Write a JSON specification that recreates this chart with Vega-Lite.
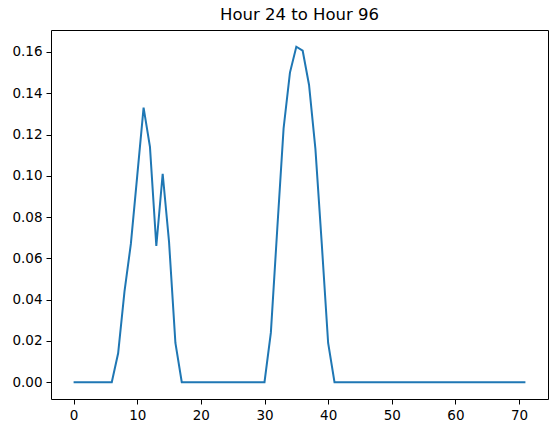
{
  "$schema": "https://vega.github.io/schema/vega-lite/v6.json",
  "width": 497,
  "height": 369,
  "autosize": "none",
  "padding": {"left": 51, "top": 30, "right": 8, "bottom": 34},
  "background": "white",
  "title": {"text": "Hour 24 to Hour 96", "font": "DejaVu Sans", "fontSize": 16.5, "fontWeight": "normal", "color": "black", "offset": 7},
  "config": {
    "view": {"stroke": "black", "strokeWidth": 1},
    "axis": {"grid": false, "domain": false, "tickColor": "black", "tickSize": 5, "labelFont": "DejaVu Sans", "labelFontSize": 13.5, "labelColor": "black", "labelPadding": 4, "title": null}
  },
  "data": {"values": [
    {"h": 0, "v": 0}, {"h": 1, "v": 0}, {"h": 2, "v": 0}, {"h": 3, "v": 0}, {"h": 4, "v": 0}, {"h": 5, "v": 0}, {"h": 6, "v": 0},
    {"h": 7, "v": 0.014}, {"h": 8, "v": 0.044}, {"h": 9, "v": 0.067}, {"h": 10, "v": 0.100}, {"h": 11, "v": 0.133},
    {"h": 12, "v": 0.114}, {"h": 13, "v": 0.066}, {"h": 14, "v": 0.101}, {"h": 15, "v": 0.068}, {"h": 16, "v": 0.019},
    {"h": 17, "v": 0}, {"h": 18, "v": 0}, {"h": 19, "v": 0}, {"h": 20, "v": 0}, {"h": 21, "v": 0}, {"h": 22, "v": 0},
    {"h": 23, "v": 0}, {"h": 24, "v": 0}, {"h": 25, "v": 0}, {"h": 26, "v": 0}, {"h": 27, "v": 0}, {"h": 28, "v": 0},
    {"h": 29, "v": 0}, {"h": 30, "v": 0},
    {"h": 31, "v": 0.024}, {"h": 32, "v": 0.074}, {"h": 33, "v": 0.123}, {"h": 34, "v": 0.150}, {"h": 35, "v": 0.1625},
    {"h": 36, "v": 0.1606}, {"h": 37, "v": 0.144}, {"h": 38, "v": 0.113}, {"h": 39, "v": 0.067}, {"h": 40, "v": 0.019},
    {"h": 41, "v": 0}, {"h": 42, "v": 0}, {"h": 43, "v": 0}, {"h": 44, "v": 0}, {"h": 45, "v": 0}, {"h": 46, "v": 0},
    {"h": 47, "v": 0}, {"h": 48, "v": 0}, {"h": 49, "v": 0}, {"h": 50, "v": 0}, {"h": 51, "v": 0}, {"h": 52, "v": 0},
    {"h": 53, "v": 0}, {"h": 54, "v": 0}, {"h": 55, "v": 0}, {"h": 56, "v": 0}, {"h": 57, "v": 0}, {"h": 58, "v": 0},
    {"h": 59, "v": 0}, {"h": 60, "v": 0}, {"h": 61, "v": 0}, {"h": 62, "v": 0}, {"h": 63, "v": 0}, {"h": 64, "v": 0},
    {"h": 65, "v": 0}, {"h": 66, "v": 0}, {"h": 67, "v": 0}, {"h": 68, "v": 0}, {"h": 69, "v": 0}, {"h": 70, "v": 0},
    {"h": 71, "v": 0}
  ]},
  "mark": {"type": "line", "color": "#1f77b4", "strokeWidth": 2},
  "encoding": {
    "x": {"field": "h", "type": "quantitative", "scale": {"domain": [-3.55, 74.55], "nice": false, "zero": false},
          "axis": {"values": [0, 10, 20, 30, 40, 50, 60, 70]}},
    "y": {"field": "v", "type": "quantitative", "scale": {"domain": [-0.008125, 0.170625], "nice": false, "zero": false},
          "axis": {"values": [0, 0.02, 0.04, 0.06, 0.08, 0.1, 0.12, 0.14, 0.16], "format": ".2f"}}
  }
}
